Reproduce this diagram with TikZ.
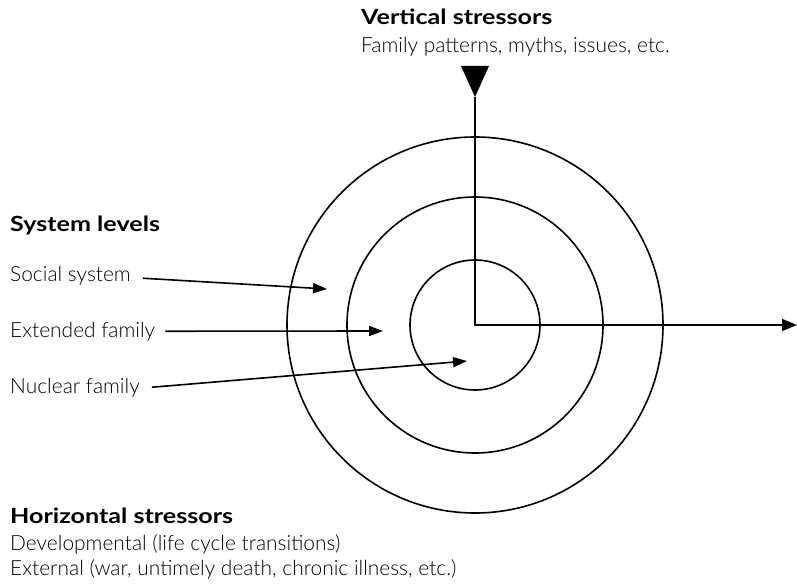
\documentclass[tikz,border=0pt]{standalone}
\usepackage{fontspec}
\usepackage{graphicx}
\setmainfont{Lato}[UprightFont=* Light,BoldFont=* Bold]
\usetikzlibrary{arrows.meta}
\newcommand{\widebold}[1]{\scalebox{1.2}[1]{\bfseries #1}}
\begin{document}
\begin{tikzpicture}[x=1bp,y=-1bp,
  ring/.style={draw,line width=1.6bp},
  pointer/.style={line width=1.6bp,-{Triangle[length=14bp,width=10bp]}},
  headtext/.style={font=\fontsize{21}{25}\selectfont,anchor=base west,inner sep=0},
  lvltext/.style={font=\fontsize{21}{25}\selectfont,anchor=base west,inner sep=0}]
\useasboundingbox (0,0) rectangle (797,586);

% concentric system levels
\coordinate (c) at (475,325);
\draw[ring] (c) circle[radius=188];
\draw[ring] (c) circle[radius=128];
\draw[ring] (c) circle[radius=65];

% vertical stressors
\node[headtext] (vt) at (361,25) {\widebold{Vertical stressors}};
\node[lvltext] (vd) at (361,53) {Family patterns, myths, issues, etc.};
\coordinate (tip) at (475,97);
\coordinate (hend) at (797,325);
\fill (461,66) -- (489,66) -- (tip) -- cycle;
\draw[line width=1.6bp,-{Triangle[length=15bp,width=12bp]}] (tip) |- (hend);

% system levels
\node[headtext] (sl) at (10,232) {\widebold{System levels}};
\node[lvltext] (ss) at (10,281) {Social system};
\node[lvltext] (ef) at (10,337) {Extended family};
\node[lvltext] (nf) at (10,393) {Nuclear family};
\coordinate (ssend) at (327,289);
\coordinate (efend) at (383,331);
\coordinate (nfend) at (467,361);
\draw[pointer] ([xshift=12bp,yshift=-3bp]ss.east) -- (ssend);
\draw[pointer] ([xshift=10bp]ef.east) -- (efend);
\draw[pointer] ([xshift=12bp]nf.east) -- (nfend);

% horizontal stressors
\node[headtext] (hs) at (10,523) {\widebold{Horizontal stressors}};
\node[lvltext] (dv) at (10,550) {Developmental (life cycle transitions)};
\node[lvltext] (ex) at (10,575) {External (war, untimely death, chronic illness, etc.)};
\end{tikzpicture}
\end{document}
